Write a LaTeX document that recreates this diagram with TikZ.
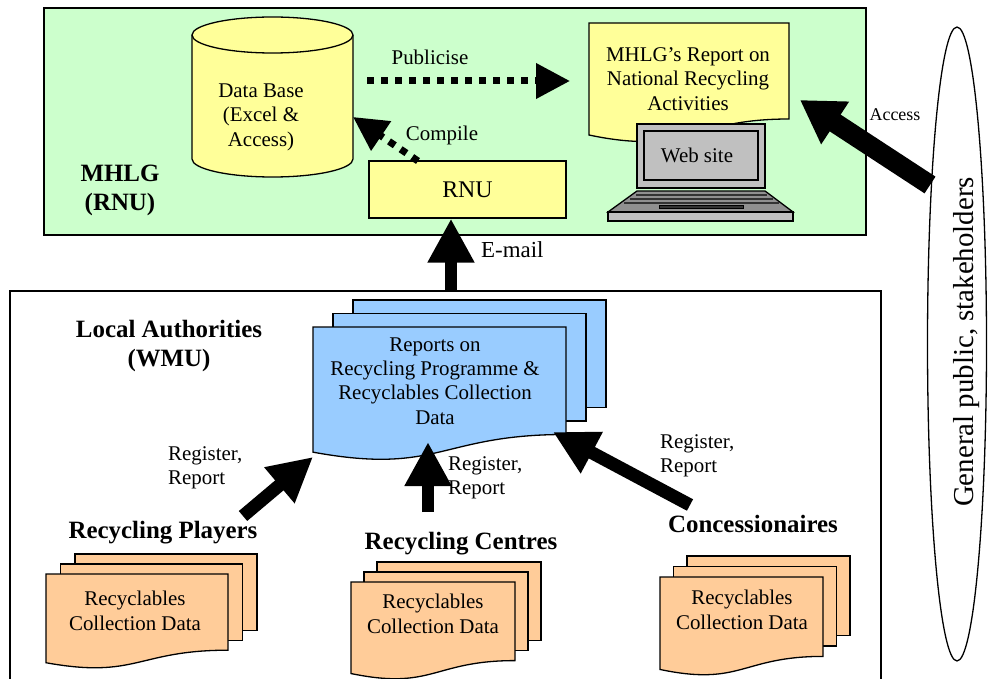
\documentclass[tikz,border=0pt]{standalone}
\usepackage{fontspec}
\setmainfont{Liberation Serif}
\usetikzlibrary{arrows.meta,shapes.geometric}
\definecolor{boxgreen}{HTML}{CCFFCC}
\definecolor{dbyellow}{HTML}{FFFF99}
\definecolor{repblue}{HTML}{99CCFF}
\definecolor{dataorange}{HTML}{FFCC99}
\definecolor{pcgray}{HTML}{C0C0C0}
\begin{document}
\begin{tikzpicture}[x=1bp, y=1bp,
  outl/.style={draw=black, line width=1.3bp},
  txt/.style={font=\fontsize{21}{24.5}\selectfont, align=center, inner sep=0pt},
  lbl/.style={font=\fontsize{21}{24.5}\selectfont, align=left, anchor=west, inner sep=0pt},
  head/.style={font=\fontsize{25}{29}\selectfont\bfseries, align=center, inner sep=0pt},
  blockarrow/.style={line width=13bp, -{Triangle[length=44bp,width=44bp]}},
  dotarrow/.style={line width=7bp, dash pattern=on 7bp off 7bp, -{Triangle[length=34bp,width=34bp]}}]
\useasboundingbox (0,0) rectangle (988,-679);
%%%% Boxes:
\draw[outl, fill=boxgreen] (44,-8) rectangle (866,-235);
\draw[outl] (10,-679) -- (10,-291) -- (881,-291) -- (881,-679);
%%%% Data base
\draw[outl, fill=dbyellow] (192,-35) -- (192,-159) arc[start angle=180, end angle=360, x radius=80.5, y radius=18]
  -- (353,-35) arc[start angle=0, end angle=180, x radius=80.5, y radius=18] -- cycle;
\draw[outl] (192,-35) arc[start angle=180, end angle=360, x radius=80.5, y radius=18];
\node[txt] (db) at (261,-117) {Data Base\\(Excel \&\\Access)};
%%%% MHLG report and laptop
\draw[outl, fill=dbyellow] (589,-23) -- (789,-23) -- (789,-119) .. controls (689,-119) and (689,-156) .. (589,-135) -- cycle;
\node[txt] (mhlgrep) at (688,-79) {MHLG's Report on\\National Recycling\\Activities};
\draw[outl, fill=pcgray] (637,-124) rectangle (765,-188);
\draw[outl, fill=pcgray] (644,-131) rectangle (758,-180);
\node[txt] (web) at (697,-155) {Web site};
\draw[outl, fill=pcgray!75!black] (637,-191) -- (765,-191) -- (793,-212) -- (608,-212) -- cycle;
\foreach \yy/\ll/\rr in {195/636/767, 199/630/773, 203/624/779}
  \draw[line width=2.5bp, black!80] (\ll,-\yy) -- (\rr,-\yy);
\draw[fill=black!80] (659,-205) rectangle (743,-208);
\draw[outl, fill=pcgray] (608,-212) rectangle (793,-221);
%%%% RNU
\node[txt, font=\fontsize{24}{28}\selectfont, outl, fill=dbyellow, minimum width=197bp, minimum height=57bp] (rnu) at (467.5,-189.5) {RNU};
%%%% Document stacks
\foreach \x/\y/\w/\h/\dx/\dy/\c in {313/327/253/134/20/13.5/repblue, 46/574/182/95/14.5/10/dataorange,
    351/582/164/98/13/10/dataorange, 660/577/163/99/13.5/10.5/dataorange}{
  \foreach \k in {2,1}
    \draw[outl, fill=\c] (\x+\k*\dx,-\y+\k*\dy) rectangle ++(\w,-0.802*\h);
  \draw[outl, fill=\c] (\x,-\y) -- (\x+\w,-\y) -- (\x+\w,-\y-0.802*\h)
    .. controls (\x+0.5*\w,-\y-0.802*\h) and (\x+0.5*\w,-\y-1.107*\h) .. (\x,-\y-0.934*\h) -- cycle;
}
\node[txt] (rep) at (435,-381) {Reports on\\Recycling Programme \&\\Recyclables Collection\\Data};
\node[txt] (players) at (135,-611) {Recyclables\\Collection Data};
\node[txt] (centres) at (433,-614) {Recyclables\\Collection Data};
\node[txt] (conc) at (742,-610) {Recyclables\\Collection Data};
%%%% Headings
\node[head] (mhlg) at (120,-190) {MHLG\\(RNU)};
\node[head] (la) at (169,-346) {Local Authorities\\(WMU)};
\node[head] (playersh) at (163,-533) {Recycling Players};
\node[head] (centresh) at (461,-544) {Recycling Centres};
\node[head] (conch) at (753,-524) {Concessionaires};
%%%% General public
\node[outl, ellipse, minimum width=59bp, minimum height=634bp, inner sep=0pt] (gp) at (957,-344) {};
\node[txt, rotate=90, font=\fontsize{29}{34}\selectfont] (gptext) at (967,-342) {General public, stakeholders};
%%%% Arrow ends
\coordinate (mailS) at (451,-291);
\coordinate (r1S) at (243,-516);
\coordinate (r1E) at (313,-457);
\coordinate (r2S) at (428,-512);
\coordinate (r2E) at (428,-442);
\coordinate (r3S) at (690,-505);
\coordinate (r3E) at (553,-432);
\coordinate (accS) at (930,-185);
\coordinate (accE) at (800,-100);
\coordinate (pubS) at (367,-81);
\coordinate (pubE) at (570,-81);
\coordinate (cmpS) at (418,-161);
\coordinate (cmpE) at (353,-117);
%%%% Arrows
\draw[dotarrow] (pubS) -- (pubE);
\draw[dotarrow] (cmpS) -- (cmpE);
\draw[blockarrow, line width=12bp] (mailS) -- (rnu.south -| mailS);
\draw[blockarrow] (r1S) -- (r1E);
\draw[blockarrow, line width=12bp] (r2S) -- (r2E);
\draw[blockarrow] (r3S) -- (r3E);
\draw[line width=20bp, -{Triangle[length=42bp,width=48bp]}] (accS) -- (accE);
%%%% Arrow labels
\node[txt] (publicise) at (430,-57) {Publicise};
\node[txt] (compile) at (442,-135) {Compile};
\node[txt, font=\fontsize{18}{21}\selectfont] (access) at (895,-115) {Access};
\node[lbl, font=\fontsize{23}{27}\selectfont] (mail) at (481,-250) {E-mail};
\node[lbl] (reg1) at (168,-468) {Register,\\Report};
\node[lbl] (reg2) at (448,-478) {Register,\\Report};
\node[lbl] (reg3) at (660,-456) {Register,\\Report};
\end{tikzpicture}
\end{document}
